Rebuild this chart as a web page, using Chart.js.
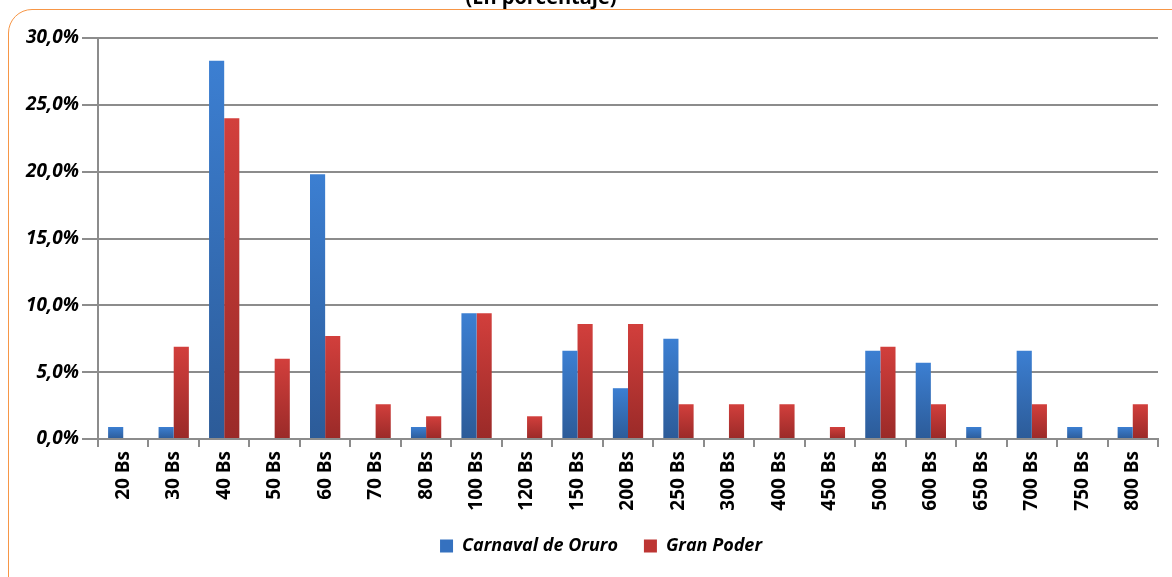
<!DOCTYPE html>
<html>
<head>
<meta charset="utf-8">
<script src="https://cdn.jsdelivr.net/npm/chart.js@4"></script>
<style>
  html, body { margin: 0; padding: 0; background: #fff; overflow: hidden; }
  #wrap { position: relative; width: 1172px; height: 577px; }
  #frame { position: absolute; left: 8px; top: 9px; width: 1200px; height: 620px;
           border: 1.5px solid #f79646; border-radius: 24px; }
  canvas { position: absolute; left: 0; top: 0; }
</style>
</head>
<body>
<div id="wrap">
  <div id="frame"></div>
  <canvas id="myChart" width="1172" height="577"></canvas>
</div>
<script>
const labels = ['20 Bs', '30 Bs', '40 Bs', '50 Bs', '60 Bs', '70 Bs', '80 Bs', '100 Bs', '120 Bs', '150 Bs',
  '200 Bs', '250 Bs', '300 Bs', '400 Bs', '450 Bs', '500 Bs', '600 Bs', '650 Bs', '700 Bs', '750 Bs', '800 Bs'];
const carnavalOruro = [0.9, 0.9, 28.3, 0, 19.8, 0, 0.9, 9.4, 0, 6.6, 3.8, 7.5, 0, 0, 0, 6.6, 5.7, 0.9, 6.6, 0.9, 0.9];
const granPoder = [0, 6.9, 24.0, 6.0, 7.7, 2.6, 1.7, 9.4, 1.7, 8.6, 8.6, 2.6, 2.6, 2.6, 0.9, 6.9, 2.6, 0, 2.6, 0, 2.6];
const yTicks = [0, 5, 10, 15, 20, 25, 30];

const font = '"Open Sans", Lato, sans-serif';
const grey = '#8c8c8c';

function barGradient(top, bottom) {
  return function (ctx) {
    const chart = ctx.chart;
    if (!chart.chartArea || ctx.type !== 'data') return top;
    const y = chart.scales.y;
    const y0 = y.getPixelForValue(0);
    const y1 = y.getPixelForValue(ctx.raw);
    if (!isFinite(y1) || y0 - y1 < 1) return top;
    const g = chart.ctx.createLinearGradient(0, y1, 0, y0);
    g.addColorStop(0, top);
    g.addColorStop(1, bottom);
    return g;
  };
}

// partially hidden title at the top edge, legend nudged right
const extras = {
  id: 'extras',
  afterLayout(chart) {
    if (chart.legend) {
      chart.legend.left += 12;
      chart.legend.right += 12;
    }
  },
  afterDraw(chart) {
    const c = chart.ctx;
    c.save();
    c.font = 'bold 20px ' + font;
    c.fillStyle = '#000';
    c.textAlign = 'center';
    c.textBaseline = 'alphabetic';
    c.fillText('(En porcentaje)', 541, 4);
    c.restore();
  }
};

new Chart(document.getElementById('myChart').getContext('2d'), {
  type: 'bar',
  data: {
    labels: labels,
    datasets: [
      {
        label: 'Carnaval de Oruro',
        data: carnavalOruro,
        backgroundColor: barGradient('#3c7fd2', '#2c5b98'),
        borderWidth: 0
      },
      {
        label: 'Gran Poder',
        data: granPoder,
        backgroundColor: barGradient('#d23f3c', '#9a2a28'),
        borderWidth: 0
      }
    ]
  },
  plugins: [extras],
  options: {
    responsive: false,
    animation: false,
    layout: { padding: { left: 20, right: 14, top: 38, bottom: 12 } },
    datasets: { bar: { categoryPercentage: 0.6, barPercentage: 1.0 } },
    plugins: {
      tooltip: { enabled: false },
      title: { display: false },
      legend: {
        position: 'bottom',
        labels: {
          boxWidth: 13,
          boxHeight: 13,
          padding: 26,
          color: '#000',
          font: { family: font, size: 18, weight: 'bold', style: 'italic' },
          generateLabels(chart) {
            const fills = ['#3571bf', '#bd3533'];
            return chart.data.datasets.map((ds, i) => ({
              text: ds.label,
              fillStyle: fills[i],
              strokeStyle: fills[i],
              lineWidth: 0,
              datasetIndex: i,
              fontColor: '#000'
            }));
          }
        }
      }
    },
    scales: {
      x: {
        offset: true,
        grid: { offset: true, drawOnChartArea: false, color: grey, lineWidth: 2, tickLength: 8 },
        border: { color: grey, width: 2 },
        ticks: {
          minRotation: 90,
          maxRotation: 90,
          padding: 4,
          color: '#000',
          font: { family: font, size: 19, weight: 'bold' }
        },
        afterFit(scale) { scale.height = 72; }
      },
      y: {
        min: 0,
        max: 30,
        afterBuildTicks(scale) { scale.ticks = yTicks.map(v => ({ value: v })); },
        grid: { color: grey, lineWidth: 2, tickLength: 16 },
        border: { color: grey, width: 2 },
        ticks: {
          padding: 3,
          color: '#000',
          font: { family: font, size: 19, weight: 'bold', style: 'italic' },
          callback: v => v.toFixed(1).replace('.', ',') + '%'
        },
        afterFit(scale) { scale.width = 78; }
      }
    }
  }
});
</script>
</body>
</html>
